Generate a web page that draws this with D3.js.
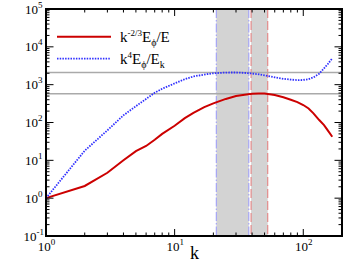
<!DOCTYPE html>
<html>
<head>
<meta charset="utf-8">
<script src="https://cdn.jsdelivr.net/npm/d3@7"></script>
<style>
  body { margin: 0; background: #fff; }
  svg { display: block; font-family: "Liberation Serif", "Times New Roman", "DejaVu Serif", serif; }
</style>
</head>
<body>
<svg id="chart" width="354" height="266"></svg>
<script>
// wavenumbers where the spectra are sampled
var kValues = [1, 2, 3, 4, 5, 6, 7, 8, 10, 12, 14, 17, 20, 25, 30, 35, 40, 45, 50, 60, 70, 80, 90, 100, 110, 120, 133, 145, 155, 168];
// k^-2/3 E_phi / E
var redValues = [1.0, 2.1, 4.7, 10, 17.5, 24, 35, 50, 82, 130, 180, 255, 320, 420, 500, 545, 575, 585, 580, 530, 465, 400, 345, 290, 235, 175, 116, 85, 62, 42];
// k^4 E_phi / E_k
var blueValues = [1.0, 18, 62, 155, 270, 420, 610, 780, 1080, 1400, 1650, 1850, 2000, 2090, 2100, 2050, 1970, 1880, 1760, 1560, 1430, 1360, 1320, 1330, 1400, 1560, 1950, 2700, 3500, 4950];
// reference levels (gray lines)
var hLevels = [2100, 575];
// inertial range bands
var blueBand = [21.1, 37.7];
var redBand = [39.3, 52.9];
var xTicks = [1, 10, 100];
var yTicks = [0.1, 1, 10, 100, 1000, 10000, 100000];

(function () {
    var svg = d3.select('#chart');
    var pL = 46, pR = 342, pT = 9, pB = 236;

    var x = d3.scaleLog().domain([1, 200]).range([pL, pR]);
    var y = d3.scaleLog().domain([0.1, 1e5]).range([pB, pT]);

    //shaded bands
    [blueBand, redBand].forEach(function (b) {
        svg.append('rect')
            .attr('x', x(b[0])).attr('y', pT)
            .attr('width', x(b[1]) - x(b[0])).attr('height', pB - pT)
            .attr('fill', '#d3d3d3');
    });

    //band edges
    blueBand.forEach(function (k) {
        svg.append('line')
            .attr('x1', x(k)).attr('x2', x(k)).attr('y1', pT).attr('y2', pB)
            .attr('stroke', '#a5a5f5').attr('stroke-width', 1.2)
            .attr('stroke-dasharray', '9,2,1.5,2');
    });
    redBand.forEach(function (k) {
        svg.append('line')
            .attr('x1', x(k)).attr('x2', x(k)).attr('y1', pT).attr('y2', pB)
            .attr('stroke', '#e38a8a').attr('stroke-width', 1.2)
            .attr('stroke-dasharray', '9,3');
    });

    //gray horizontal levels
    hLevels.forEach(function (v) {
        svg.append('line')
            .attr('x1', pL).attr('x2', pR).attr('y1', y(v)).attr('y2', y(v))
            .attr('stroke', '#aaaaaa').attr('stroke-width', 1.5);
    });

    //curves
    var line = d3.line().x(function (d) { return x(d[0]); }).y(function (d) { return y(d[1]); });
    svg.append('path')
        .attr('d', line(kValues.map(function (k, i) { return [k, redValues[i]]; })))
        .attr('fill', 'none').attr('stroke', '#cc0000').attr('stroke-width', 2);
    svg.append('path')
        .attr('d', line(kValues.map(function (k, i) { return [k, blueValues[i]]; })))
        .attr('fill', 'none').attr('stroke', '#3030ff').attr('stroke-width', 1.8)
        .attr('stroke-dasharray', '1.5,1.2');

    //ticks, inward on all four sides
    var xMinor = [], yMinor = [];
    [1, 10, 100].forEach(function (d) {
        for (var m = 2; m <= 9; m++) if (d * m < 200) xMinor.push(d * m);
    });
    [0.1, 1, 10, 100, 1000, 10000].forEach(function (d) {
        for (var m = 2; m <= 9; m++) yMinor.push(d * m);
    });
    var tg = svg.append('g').attr('stroke', '#000').attr('stroke-width', 1);
    function xTick(v, len) {
        tg.append('line').attr('x1', x(v)).attr('x2', x(v)).attr('y1', pB).attr('y2', pB - len);
        tg.append('line').attr('x1', x(v)).attr('x2', x(v)).attr('y1', pT).attr('y2', pT + len);
    }
    function yTick(v, len) {
        tg.append('line').attr('y1', y(v)).attr('y2', y(v)).attr('x1', pL).attr('x2', pL + len);
        tg.append('line').attr('y1', y(v)).attr('y2', y(v)).attr('x1', pR).attr('x2', pR - len);
    }
    xTicks.forEach(function (v) { xTick(v, 7); });
    xMinor.forEach(function (v) { xTick(v, 3.5); });
    yTicks.forEach(function (v) { yTick(v, 7.5); });
    yMinor.forEach(function (v) { yTick(v, 3.5); });

    //frame
    svg.append('rect')
        .attr('x', pL).attr('y', pT).attr('width', pR - pL).attr('height', pB - pT)
        .attr('fill', 'none').attr('stroke', '#000').attr('stroke-width', 2);

    //tick labels
    function expOf(v) { return Math.round(Math.log10(v)); }
    yTicks.forEach(function (v) {
        var t = svg.append('text')
            .attr('x', 33.7).attr('y', y(v) + 4.5)
            .attr('text-anchor', 'middle').attr('font-size', 13);
        t.append('tspan').text('10');
        t.append('tspan').attr('dy', -6).attr('font-size', 9).text(expOf(v));
    });
    xTicks.forEach(function (v) {
        var t = svg.append('text')
            .attr('x', x(v) + 0.5).attr('y', 251)
            .attr('text-anchor', 'middle').attr('font-size', 13);
        t.append('tspan').text('10');
        t.append('tspan').attr('dy', -6).attr('font-size', 9).text(expOf(v));
    });

    //axis title
    svg.append('text')
        .attr('x', 194.5).attr('y', 259).attr('text-anchor', 'middle')
        .attr('font-size', 18).text('k');

    //legend
    svg.append('line').attr('x1', 57).attr('x2', 111).attr('y1', 36.7).attr('y2', 36.7)
        .attr('stroke', '#cc0000').attr('stroke-width', 2);
    svg.append('line').attr('x1', 57).attr('x2', 111).attr('y1', 58.7).attr('y2', 58.7)
        .attr('stroke', '#3030ff').attr('stroke-width', 1.8).attr('stroke-dasharray', '1.5,1.2');

    var l1 = svg.append('text').attr('x', 120).attr('y', 41.5).attr('font-size', 15);
    l1.append('tspan').text('k');
    l1.append('tspan').attr('dy', -6).attr('font-size', 9).text('-2/3');
    l1.append('tspan').attr('dy', 6).text('E');
    l1.append('tspan').attr('dy', 4).attr('font-size', 10).text('\u03d5');
    l1.append('tspan').attr('dy', -4).text('/E');

    var l2 = svg.append('text').attr('x', 120).attr('y', 63.5).attr('font-size', 15);
    l2.append('tspan').text('k');
    l2.append('tspan').attr('dy', -6).attr('font-size', 9).text('4');
    l2.append('tspan').attr('dy', 6).text('E');
    l2.append('tspan').attr('dy', 4).attr('font-size', 10).text('\u03d5');
    l2.append('tspan').attr('dy', -4).text('/E');
    l2.append('tspan').attr('dy', 4).attr('font-size', 10).text('k');
})();
</script>
</body>
</html>
